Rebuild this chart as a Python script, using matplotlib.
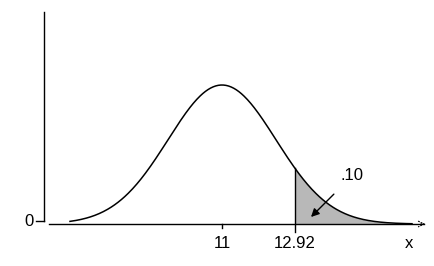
import numpy as np
import matplotlib
matplotlib.use("Agg")
import matplotlib.pyplot as plt

# data
mean = 11
sd = 1.42
cutoff = 12.92
tail_area = ".10"
x_start, x_end = 7, 16

x = np.linspace(x_start, x_end, 400)
y = np.exp(-0.5 * ((x - mean) / sd) ** 2) / (sd * np.sqrt(2 * np.pi))
peak = 1 / (sd * np.sqrt(2 * np.pi))

plt.rcParams["font.family"] = ["Liberation Sans", "DejaVu Sans"]

fig = plt.figure(figsize=(4.34, 2.66), dpi=100)
ax = fig.add_axes([0, 0, 1, 1])
ax.axis("off")

# map pixels: x=11 at 222px, 38 px per unit; baseline at 224px, peak at 85px
ppu = 38.0
ax.set_xlim(mean - 222 / ppu, mean + (434 - 222) / ppu)
yscale = peak / 139.0
ax.set_ylim(-(266 - 224) * yscale, 224 * yscale)

def px(p):
    return mean + (p - 222) / ppu

def py(p):
    return (224 - p) * yscale

# curve and shaded tail
ax.plot(x, y, color="black", lw=1.1)
m = x >= cutoff
ax.fill_between(x[m], 0, y[m], color="#b8b8b8", lw=0)
ycut = np.exp(-0.5 * ((cutoff - mean) / sd) ** 2) / (sd * np.sqrt(2 * np.pi))
ax.plot([cutoff, cutoff], [py(232), ycut], color="black", lw=1)

# axes
ax.plot([px(44), px(44)], [py(221), py(12)], color="black", lw=1)
ax.plot([px(36), px(44)], [py(221), py(221)], color="black", lw=1)
ax.plot([px(49), px(424)], [0, 0], color="black", lw=1)
ax.annotate("", xy=(px(428), 0), xytext=(px(418), 0),
            arrowprops=dict(arrowstyle="->", color="black", lw=0.8, linestyle=":"))
ax.plot([mean, mean], [0, py(228)], color="black", lw=1)

# labels
ax.text(px(29), py(222), "0", fontsize=12, ha="center", va="center")
ax.text(mean, py(243), "11", fontsize=12, ha="center", va="center")
ax.text(cutoff, py(243), "12.92", fontsize=12, ha="center", va="center")
ax.text(px(409), py(243), "x", fontsize=12, ha="center", va="center")
ax.annotate(tail_area, xy=(px(311), py(217)), xytext=(px(352), py(176)),
            fontsize=12, ha="center", va="center",
            arrowprops=dict(arrowstyle="-|>", color="black", lw=1,
                            shrinkA=8, shrinkB=0, mutation_scale=12))

fig.savefig("out.png", dpi=100)
